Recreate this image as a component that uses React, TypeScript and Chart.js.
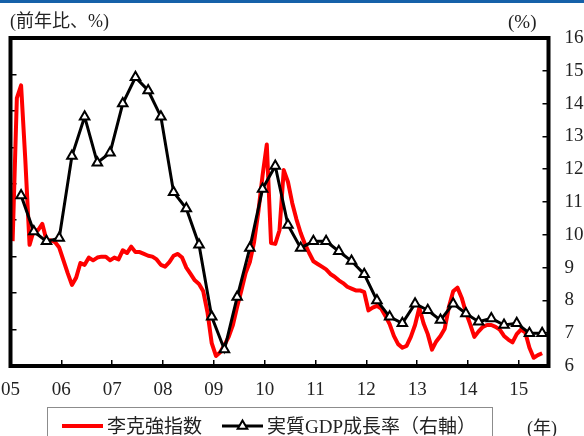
import React, { useEffect, useRef } from "react";
import { Chart, registerables } from "chart.js";

Chart.register(...registerables);

// Year tick labels (one per January)
const yearLabels = ["05", "06", "07", "08", "09", "10", "11", "12", "13", "14", "15"];

// 李克強指数 — monthly, left axis
const li2005 = [9.7, 25.4, 26.8, 18.6, 9.3, 10.9, 10.9, 11.6, 9.8, 9.8, 9.6, 9.0];
const li2006 = [7.6, 6.2, 4.9, 5.7, 7.3, 7.1, 7.9, 7.6, 7.9, 8.0, 8.0, 7.6];
const li2007 = [7.9, 7.7, 8.7, 8.4, 9.1, 8.5, 8.5, 8.3, 8.1, 8.0, 7.7, 7.1];
const li2008 = [6.9, 7.4, 8.1, 8.3, 7.9, 6.8, 6.1, 5.4, 5.0, 4.2, 1.9, -1.5];
const li2009 = [-2.9, -2.5, -1.7, -0.8, 0.5, 2.5, 4.3, 6.2, 7.4, 9.6, 12.9, 16.9];
const li2010 = [20.3, 9.5, 9.4, 10.9, 17.5, 16.2, 13.9, 12.1, 10.6, 9.4, 8.4, 7.5];
const li2011 = [7.2, 6.9, 6.6, 6.1, 5.8, 5.4, 5.1, 4.7, 4.5, 4.3, 4.3, 4.1];
const li2012 = [2.1, 2.4, 2.6, 2.3, 1.5, 0.6, -0.7, -1.6, -2.0, -1.8, -0.8, 0.5];
const li2013 = [2.4, 0.7, -0.5, -2.2, -1.3, -0.7, 0.1, 2.5, 4.2, 4.6, 3.5, 1.9];
const li2014 = [0.6, -0.8, -0.2, 0.3, 0.5, 0.5, 0.3, 0.0, -0.7, -1.1, -1.4, -0.5];
const li2015 = [0.0, -0.3, -2.0, -3.1, -2.8, -2.6];

// 実質GDP成長率 — quarterly (Q1..Q4), right axis
const gdp2005 = [11.2, 10.1, 9.8, 9.9];
const gdp2006 = [12.4, 13.6, 12.2, 12.5];
const gdp2007 = [14.0, 14.8, 14.4, 13.6];
const gdp2008 = [11.3, 10.8, 9.7, 7.5];
const gdp2009 = [6.5, 8.1, 9.6, 11.4];
const gdp2010 = [12.1, 10.3, 9.6, 9.8];
const gdp2011 = [9.8, 9.5, 9.2, 8.8];
const gdp2012 = [8.0, 7.5, 7.3, 7.9];
const gdp2013 = [7.7, 7.4, 7.9, 7.6];
const gdp2014 = [7.35, 7.45, 7.25, 7.3];
const gdp2015 = [7.0, 7.0];

const liIndex = [
  ...li2005, ...li2006, ...li2007, ...li2008, ...li2009, ...li2010,
  ...li2011, ...li2012, ...li2013, ...li2014, ...li2015,
];
const gdpGrowth = [
  ...gdp2005, ...gdp2006, ...gdp2007, ...gdp2008, ...gdp2009, ...gdp2010,
  ...gdp2011, ...gdp2012, ...gdp2013, ...gdp2014, ...gdp2015,
];

const SERIF = "'Liberation Serif', 'DejaVu Serif', 'Noto Sans CJK JP', serif";

// Heavy black frame around the plot area
const framePlugin = {
  id: "plotFrame",
  afterDatasetsDraw(chart: any) {
    const { ctx, chartArea } = chart;
    const { left, top, right, bottom } = chartArea;
    ctx.save();
    ctx.strokeStyle = "#000";
    ctx.lineWidth = 4;
    ctx.strokeRect(left, top, right - left, bottom - top);
    ctx.restore();
  },
};

// short tick marks pointing into the plot, no grid lines
const tickGrid = {
  drawOnChartArea: false,
  drawTicks: true,
  tickLength: -6,
  color: "#000",
  lineWidth: 1.5,
};

export default function App() {
  const canvasRef = useRef<HTMLCanvasElement>(null);

  useEffect(() => {
    if (!canvasRef.current) return;
    // months are plotted at their centres; quarters at the centre of their last month
    const liPoints = liIndex.map((v, i) => ({ x: i + 0.5, y: v }));
    const gdpPoints = gdpGrowth.map((v, q) => ({ x: q * 3 + 2.5, y: v }));

    const chart = new Chart(canvasRef.current, {
      type: "line",
      data: {
        datasets: [
          {
            label: "実質GDP成長率（右軸）",
            data: gdpPoints,
            yAxisID: "yR",
            borderColor: "#000",
            borderWidth: 3,
            pointStyle: "triangle",
            pointRadius: 5.5,
            pointBackgroundColor: "#fff",
            pointBorderColor: "#000",
            pointBorderWidth: 2,
            tension: 0,
          },
          {
            label: "李克強指数",
            data: liPoints,
            yAxisID: "yL",
            borderColor: "#ff0000",
            borderWidth: 4,
            pointRadius: 0,
            tension: 0,
            borderJoinStyle: "round",
          },
        ],
      },
      options: {
        responsive: false,
        animation: false,
        layout: { padding: { top: 38, left: 0, right: 0, bottom: 0 } },
        plugins: {
          legend: { display: false },
          tooltip: { enabled: false },
        },
        scales: {
          x: {
            type: "linear",
            min: 0,
            max: 127,
            afterBuildTicks: (s: any) => {
              s.ticks = yearLabels.map((_, i) => ({ value: i * 12 }));
            },
            afterFit: (s: any) => {
              s.height = 70;
              s.paddingLeft = 0;
              s.paddingRight = 0;
            },
            ticks: {
              callback: (v: any) => yearLabels[Math.round(Number(v) / 12)],
              autoSkip: false,
              maxRotation: 0,
              padding: 19,
              color: "#222",
              font: { family: SERIF, size: 19 },
            },
            grid: tickGrid,
            border: { display: false },
          },
          yL: {
            type: "linear",
            position: "left",
            min: -4,
            max: 32,
            afterFit: (s: any) => {
              s.width = 10.5;
            },
            ticks: { stepSize: 4, display: false },
            grid: tickGrid,
            border: { display: false },
          },
          yR: {
            type: "linear",
            position: "right",
            min: 6,
            max: 16,
            afterFit: (s: any) => {
              s.width = 35.5;
              s.paddingTop = 0;
              s.paddingBottom = 0;
            },
            ticks: {
              stepSize: 1,
              padding: 22,
              color: "#222",
              font: { family: SERIF, size: 19 },
            },
            grid: tickGrid,
            border: { display: false },
          },
        },
      },
      plugins: [framePlugin],
    } as any);

    return () => chart.destroy();
  }, []);

  const textStyle: React.CSSProperties = {
    position: "absolute",
    fontFamily: SERIF,
    lineHeight: 1,
    color: "#222",
    whiteSpace: "nowrap",
  };

  return (
    <div
      style={{
        position: "absolute",
        left: 0,
        top: 0,
        width: 584,
        height: 436,
        overflow: "hidden",
        background: "#fff",
      }}
    >
      <div style={{ position: "absolute", left: 0, top: 0, width: 584, height: 3, background: "#1561a9" }} />
      <canvas ref={canvasRef} width={584} height={436} style={{ position: "absolute", left: 0, top: 0 }} />
      <div style={{ ...textStyle, left: 10, top: 12, fontSize: 18 }}>(前年比、%)</div>
      <div style={{ ...textStyle, left: 508, top: 12, fontSize: 19 }}>(%)</div>
      <div style={{ ...textStyle, left: 527, top: 419, fontSize: 18 }}>(年)</div>
      <div
        style={{
          position: "absolute",
          left: 47,
          top: 407,
          width: 446,
          height: 40,
          border: "1px solid #8c8c8c",
          boxSizing: "border-box",
          display: "flex",
          alignItems: "flex-start",
        }}
      >
        <div style={{ display: "flex", alignItems: "center", height: 36, paddingLeft: 14 }}>
          <svg width={41} height={20} style={{ display: "block" }}>
            <line x1={0} y1={10} x2={41} y2={10} stroke="#ff0000" strokeWidth={4} />
          </svg>
          <span style={{ fontFamily: SERIF, fontSize: 19, lineHeight: 1, color: "#222", marginLeft: 4 }}>李克強指数</span>
          <svg width={41} height={20} style={{ display: "block", marginLeft: 20 }}>
            <line x1={0} y1={10} x2={41} y2={10} stroke="#000" strokeWidth={3} />
            <polygon points="20.5,4.5 25.3,12.75 15.7,12.75" fill="#fff" stroke="#000" strokeWidth={2} />
          </svg>
          <span style={{ fontFamily: SERIF, fontSize: 19, lineHeight: 1, color: "#222", marginLeft: 4 }}>実質GDP成長率（右軸）</span>
        </div>
      </div>
    </div>
  );
}
